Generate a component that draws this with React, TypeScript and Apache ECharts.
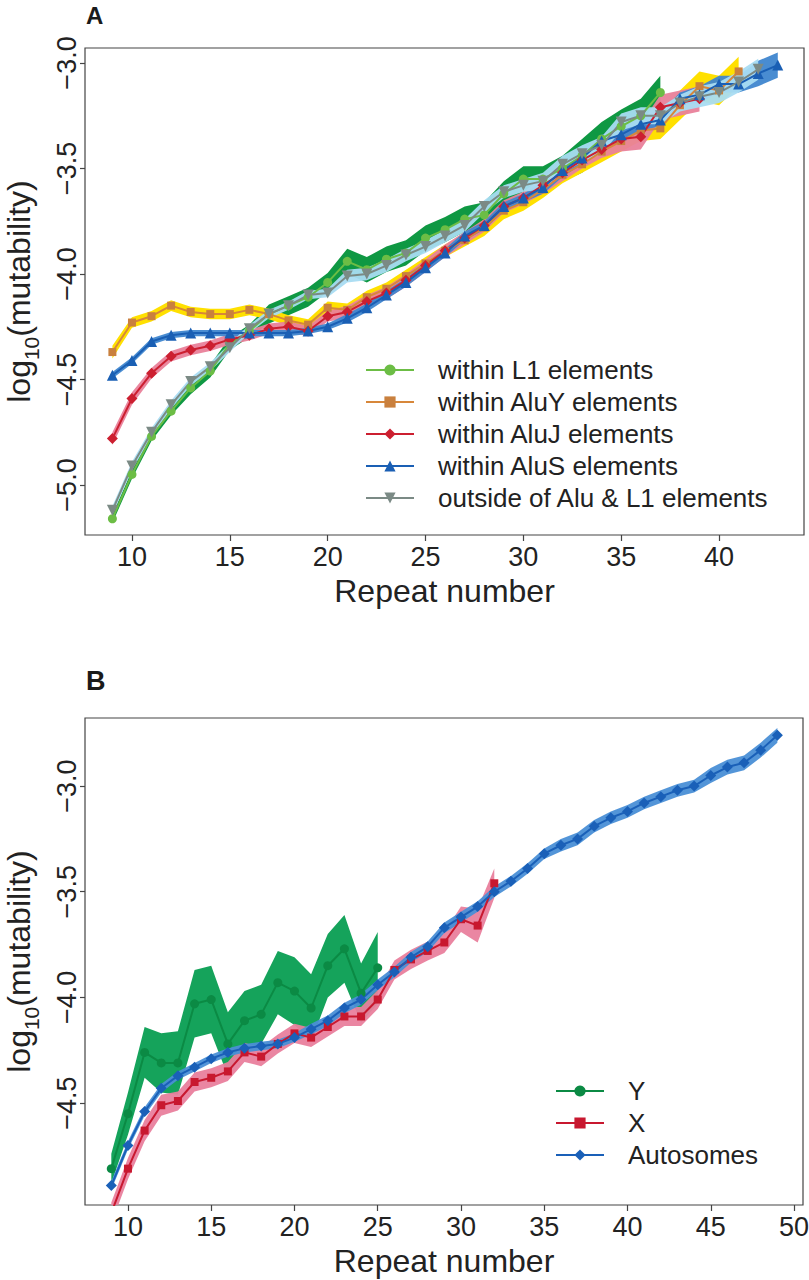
import { useEffect, useRef } from 'react';
import * as echarts from 'echarts';

const FONT = '"Liberation Sans", Arial, Helvetica, sans-serif';

// ---- Panel A: mutability by repeat number, first value is at repeat 9 ----
const startA = 9;
const l1Values = [-5.16, -4.95, -4.77, -4.65, -4.54, -4.46, -4.33, -4.27, -4.19, -4.15, -4.11, -4.04, -3.94, -3.98, -3.93, -3.9, -3.83, -3.79, -3.74, -3.72, -3.62, -3.55, -3.55, -3.5, -3.44, -3.36, -3.3, -3.25, -3.14];
const l1Half = [0.02, 0.02, 0.02, 0.02, 0.03, 0.03, 0.03, 0.03, 0.045, 0.045, 0.045, 0.045, 0.06, 0.06, 0.06, 0.06, 0.06, 0.06, 0.06, 0.06, 0.06, 0.06, 0.06, 0.06, 0.08, 0.08, 0.08, 0.08, 0.08];
const aluYValues = [-4.37, -4.23, -4.2, -4.15, -4.18, -4.19, -4.19, -4.17, -4.19, -4.22, -4.24, -4.16, -4.17, -4.11, -4.07, -4.01, -3.95, -3.89, -3.84, -3.78, -3.7, -3.66, -3.6, -3.53, -3.48, -3.42, -3.37, -3.32, -3.31, -3.2, -3.11, -3.13, -3.04];
const aluYHalf = [0.03, 0.025, 0.025, 0.025, 0.025, 0.025, 0.025, 0.025, 0.025, 0.025, 0.025, 0.03, 0.03, 0.03, 0.03, 0.03, 0.03, 0.03, 0.03, 0.04, 0.04, 0.04, 0.04, 0.04, 0.04, 0.05, 0.05, 0.05, 0.05, 0.07, 0.07, 0.07, 0.07];
const aluJValues = [-4.78, -4.59, -4.47, -4.39, -4.36, -4.34, -4.31, -4.29, -4.26, -4.25, -4.27, -4.2, -4.18, -4.13, -4.09, -4.03, -3.96, -3.89, -3.83, -3.77, -3.68, -3.64, -3.58, -3.52, -3.46, -3.41, -3.36, -3.35, -3.21, -3.19, -3.17];
const aluJHalf = [0.03, 0.03, 0.025, 0.025, 0.025, 0.025, 0.025, 0.025, 0.025, 0.025, 0.025, 0.025, 0.03, 0.03, 0.03, 0.03, 0.03, 0.03, 0.03, 0.03, 0.03, 0.03, 0.04, 0.04, 0.04, 0.04, 0.06, 0.06, 0.06, 0.06, 0.06];
const aluSValues = [-4.48, -4.41, -4.32, -4.29, -4.28, -4.28, -4.28, -4.28, -4.28, -4.28, -4.27, -4.25, -4.21, -4.16, -4.1, -4.04, -3.97, -3.9, -3.82, -3.77, -3.68, -3.64, -3.59, -3.51, -3.45, -3.37, -3.34, -3.29, -3.27, -3.17, -3.15, -3.1, -3.1, -3.05, -3.01];
const aluSHalf = [0.015, 0.015, 0.015, 0.015, 0.015, 0.015, 0.015, 0.015, 0.015, 0.015, 0.015, 0.015, 0.02, 0.02, 0.02, 0.02, 0.02, 0.02, 0.02, 0.02, 0.02, 0.02, 0.03, 0.03, 0.03, 0.03, 0.03, 0.03, 0.03, 0.03, 0.04, 0.04, 0.04, 0.06, 0.06];
const outsideValues = [-5.12, -4.91, -4.75, -4.62, -4.51, -4.44, -4.35, -4.26, -4.19, -4.15, -4.1, -4.09, -4.01, -4.0, -3.96, -3.91, -3.87, -3.82, -3.77, -3.68, -3.61, -3.58, -3.56, -3.48, -3.43, -3.39, -3.28, -3.25, -3.25, -3.19, -3.16, -3.14, -3.09, -3.03];
const outsideHalf = [0.02, 0.02, 0.02, 0.02, 0.02, 0.02, 0.02, 0.02, 0.02, 0.02, 0.02, 0.02, 0.03, 0.03, 0.03, 0.03, 0.03, 0.03, 0.03, 0.03, 0.03, 0.03, 0.04, 0.04, 0.04, 0.04, 0.04, 0.04, 0.04, 0.04, 0.05, 0.05, 0.05, 0.05];

// ---- Panel B ----
const startB = 9;
const yValues = [-4.81, -4.55, -4.26, -4.31, -4.31, -4.03, -4.01, -4.22, -4.11, -4.08, -3.93, -3.97, -4.05, -3.85, -3.77, -3.98, -3.86];
const yHalf = [0.07, 0.1, 0.12, 0.14, 0.15, 0.16, 0.16, 0.15, 0.14, 0.14, 0.15, 0.16, 0.16, 0.15, 0.16, 0.14, 0.17];
const xValues = [-5.02, -4.81, -4.63, -4.51, -4.49, -4.4, -4.38, -4.35, -4.26, -4.28, -4.22, -4.17, -4.19, -4.14, -4.09, -4.09, -4.01, -3.87, -3.82, -3.78, -3.74, -3.63, -3.66, -3.46];
const xHalf = [0.05, 0.05, 0.05, 0.05, 0.045, 0.045, 0.045, 0.045, 0.045, 0.045, 0.045, 0.045, 0.045, 0.045, 0.045, 0.045, 0.045, 0.045, 0.045, 0.045, 0.05, 0.06, 0.08, 0.07];
const autoValues = [-4.89, -4.7, -4.54, -4.43, -4.37, -4.33, -4.29, -4.26, -4.24, -4.23, -4.22, -4.19, -4.15, -4.11, -4.05, -4.01, -3.94, -3.88, -3.81, -3.76, -3.67, -3.62, -3.57, -3.5, -3.45, -3.39, -3.32, -3.28, -3.25, -3.19, -3.15, -3.12, -3.08, -3.05, -3.02, -3.0, -2.95, -2.91, -2.89, -2.83, -2.76];
const autoHalf = [0.02, 0.02, 0.02, 0.02, 0.02, 0.02, 0.02, 0.02, 0.02, 0.02, 0.02, 0.02, 0.025, 0.025, 0.025, 0.025, 0.025, 0.025, 0.025, 0.025, 0.025, 0.025, 0.025, 0.025, 0.025, 0.025, 0.025, 0.03, 0.03, 0.03, 0.03, 0.03, 0.03, 0.03, 0.03, 0.03, 0.035, 0.035, 0.035, 0.035, 0.035];

const xTicksA = [10, 15, 20, 25, 30, 35, 40];
const yTicksA = [-5, -4.5, -4, -3.5, -3];
const xTicksB = [10, 15, 20, 25, 30, 35, 40, 45, 50];
const yTicksB = [-4.5, -4, -3.5, -3];

type Spec = {
  name: string;
  start: number;
  values: number[];
  half: number[];
  line: string;
  marker: string;
  band: string;
  bandOpacity: number;
  symbol: string;
  size: number;
  rotate?: number;
};

const specsA: Spec[] = [
  { name: 'within L1 elements', start: startA, values: l1Values, half: l1Half, line: '#6cbd45', marker: '#6cbd45', band: '#0f9843', bandOpacity: 1, symbol: 'circle', size: 9 },
  { name: 'within AluY elements', start: startA, values: aluYValues, half: aluYHalf, line: '#d7873a', marker: '#c9803e', band: '#ffe000', bandOpacity: 1, symbol: 'rect', size: 8 },
  { name: 'within AluJ elements', start: startA, values: aluJValues, half: aluJHalf, line: '#cc1f30', marker: '#cc1f30', band: '#e9819a', bandOpacity: 0.95, symbol: 'diamond', size: 11 },
  { name: 'within AluS elements', start: startA, values: aluSValues, half: aluSHalf, line: '#1a5fb4', marker: '#1a5fb4', band: '#3f86cf', bandOpacity: 0.95, symbol: 'triangle', size: 11 },
  { name: 'outside of Alu & L1 elements', start: startA, values: outsideValues, half: outsideHalf, line: '#7b8a85', marker: '#7b8a85', band: '#a9dcf2', bandOpacity: 0.95, symbol: 'triangle', size: 11, rotate: 180 },
];

const specsB: Spec[] = [
  { name: 'Y', start: startB, values: yValues, half: yHalf, line: '#0b8a44', marker: '#0b8a44', band: '#15a35b', bandOpacity: 1, symbol: 'circle', size: 9 },
  { name: 'X', start: startB, values: xValues, half: xHalf, line: '#c8182f', marker: '#c8182f', band: '#e9809d', bandOpacity: 0.95, symbol: 'rect', size: 8 },
  { name: 'Autosomes', start: startB, values: autoValues, half: autoHalf, line: '#1a60b8', marker: '#1a60b8', band: '#4a8fd6', bandOpacity: 0.95, symbol: 'diamond', size: 11 },
];

const fmtTick = (v: number) => (v < 0 ? '\u2212' : '') + Math.abs(v).toFixed(1);

function bandSeries(s: Spec, idx: number) {
  return {
    type: 'custom',
    name: s.name + ' band',
    coordinateSystem: 'cartesian2d',
    xAxisIndex: idx,
    yAxisIndex: idx,
    silent: true,
    clip: true,
    z: 1,
    data: s.values.map((v, i) => [s.start + i, v]),
    renderItem: (params: any, api: any) => {
      if (params.dataIndex !== 0) return { type: 'group', children: [] };
      const upper = s.values.map((v, i) => api.coord([s.start + i, v + s.half[i]]));
      const lower = s.values.map((v, i) => api.coord([s.start + i, v - s.half[i]])).reverse();
      return {
        type: 'polygon',
        shape: { points: upper.concat(lower) },
        style: { fill: s.band, opacity: s.bandOpacity },
      };
    },
  };
}

function lineSeries(s: Spec, idx: number) {
  return {
    type: 'line',
    name: s.name,
    xAxisIndex: idx,
    yAxisIndex: idx,
    data: s.values.map((v, i) => [s.start + i, v]),
    symbol: s.symbol,
    symbolSize: s.size,
    symbolRotate: s.rotate ?? 0,
    showAllSymbol: true,
    clip: true,
    z: 3,
    lineStyle: { color: s.line, width: 2 },
    itemStyle: { color: s.marker },
  };
}

function xAxis(idx: number, min: number, max: number, ticks: number[]) {
  return {
    type: 'value',
    gridIndex: idx,
    min,
    max,
    name: 'Repeat number',
    nameLocation: 'middle',
    nameGap: 40,
    nameTextStyle: { fontSize: 32, fontFamily: FONT, color: '#222' },
    axisLine: { show: false },
    splitLine: { show: false },
    axisTick: { show: true, customValues: ticks, length: 6, lineStyle: { color: '#444', width: 1.2 } },
    axisLabel: { customValues: ticks, fontSize: 27, fontFamily: FONT, color: '#222', margin: 8 },
  };
}

function yAxis(idx: number, min: number, max: number, ticks: number[]) {
  return {
    type: 'value',
    gridIndex: idx,
    min,
    max,
    name: '{a|log}{b|10}{a|(mutability)}',
    nameLocation: 'middle',
    nameGap: 50,
    nameRotate: 90,
    nameTextStyle: {
      color: '#222',
      rich: {
        a: { fontSize: 32, fontFamily: FONT, color: '#222', lineHeight: 32 },
        b: { fontSize: 21, fontFamily: FONT, color: '#222', lineHeight: 32, verticalAlign: 'bottom', padding: [0, 0, -7, 0] },
      },
    },
    axisLine: { show: false },
    splitLine: { show: false },
    axisTick: { show: true, customValues: ticks, length: 5, lineStyle: { color: '#444', width: 1.2 } },
    axisLabel: { customValues: ticks, rotate: 90, fontSize: 27, fontFamily: FONT, color: '#222', margin: 5, formatter: fmtTick },
  };
}

function legend(names: string[], left: number, top: number, gap: number) {
  return {
    data: names,
    orient: 'vertical',
    left,
    top,
    itemWidth: 48,
    itemHeight: 14,
    itemGap: gap,
    selectedMode: false,
    textStyle: { fontSize: 26, fontFamily: FONT, color: '#222', lineHeight: 26, padding: [0, 0, 0, 19] },
  };
}

export default function App() {
  const ref = useRef<HTMLDivElement | null>(null);

  useEffect(() => {
    if (!ref.current) return;
    const chart = echarts.init(ref.current, undefined, { renderer: 'svg' });

    const gridBase = {
      show: true,
      borderColor: '#444',
      borderWidth: 1.2,
      backgroundColor: 'transparent',
      containLabel: false,
      outerBoundsMode: 'none',
    };

    const option: any = {
      animation: false,
      backgroundColor: '#ffffff',
      grid: [
        { ...gridBase, left: 85, top: 48, width: 719, height: 487 },
        { ...gridBase, left: 85, top: 718, width: 718, height: 487 },
      ],
      xAxis: [xAxis(0, 7.6, 44.34, xTicksA), xAxis(1, 7.42, 50.54, xTicksB)],
      yAxis: [yAxis(0, -5.237, -2.929, yTicksA), yAxis(1, -4.982, -2.678, yTicksB)],
      legend: [
        legend(specsA.map((s) => s.name), 360, 352, 6),
        legend(specsB.map((s) => s.name), 550, 1073, 6),
      ],
      graphic: [
        { type: 'text', left: 86, top: 3, style: { text: 'A', fontSize: 24, fontWeight: 'bold', fontFamily: FONT, fill: '#1a1a1a' } },
        { type: 'text', left: 86, top: 667, style: { text: 'B', fontSize: 27, fontWeight: 'bold', fontFamily: FONT, fill: '#1a1a1a' } },
      ],
      series: [
        ...specsA.map((s) => bandSeries(s, 0)),
        ...specsA.map((s) => lineSeries(s, 0)),
        ...specsB.map((s) => bandSeries(s, 1)),
        ...specsB.map((s) => lineSeries(s, 1)),
      ],
    };

    chart.setOption(option);
    return () => chart.dispose();
  }, []);

  return (
    <div
      ref={ref}
      style={{ position: 'absolute', left: 0, top: 0, width: 809, height: 1280, background: '#fff' }}
    />
  );
}
